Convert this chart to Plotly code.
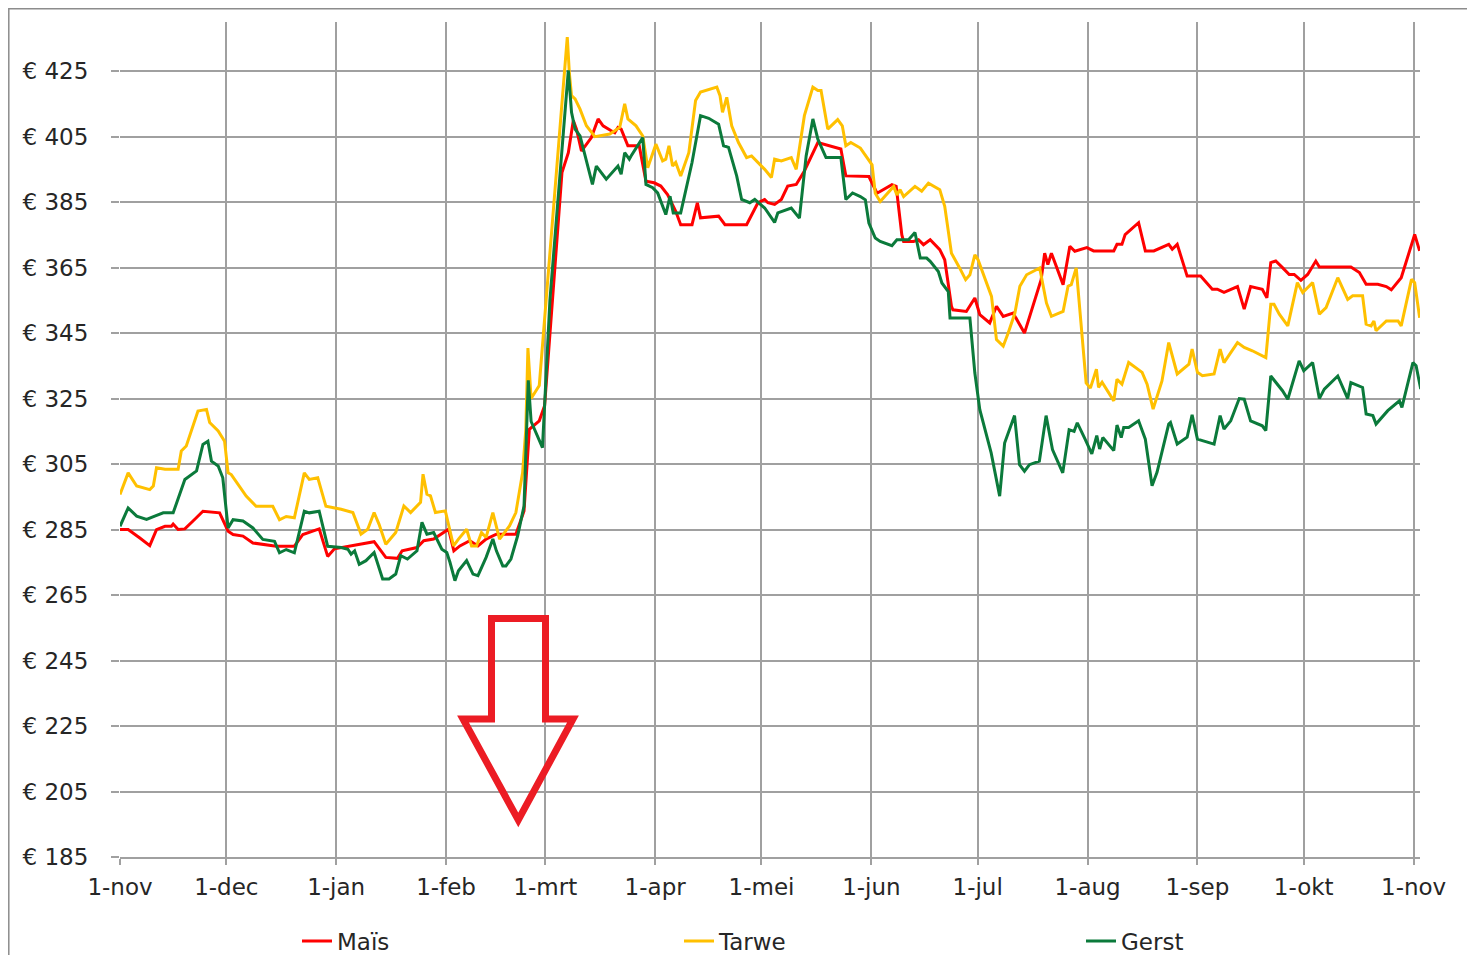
import pandas as pd
import plotly.graph_objects as go

# ---------------- data (day offset from 1-nov-2021, price in EUR/ton) ----------------
start = pd.Timestamp("2021-11-01")

mais_days = [0, 2.3, 5.6, 8.4, 10.3, 12.7, 14.5, 15, 16.4, 18.3, 20.6, 23.4, 28.1, 30.5, 31.9, 34.7,
             37.5, 44.1, 49.2, 51.6, 56.2, 58.6, 60.5, 65.2, 68, 71.7, 75, 78.3, 79.6, 83.8, 85.7,
             88.5, 92.7, 94.2, 95.9, 98.7, 101, 103.3, 106.2, 111.7, 114, 115.5, 118.3, 119.8, 124.7,
             126.5, 127.9, 128.8, 130.2, 133, 134.9, 136.3, 138.6, 139.6, 140.5, 141.4, 143.3, 146.5,
             148.4, 150.7, 152.6, 154.5, 156.8, 158.2, 161.4, 162.9, 163.8, 168.9, 170.7, 176.8, 180,
             181.9, 182.8, 184.7, 186.6, 188.4, 190.8, 193.1, 196.9, 198.7, 203.4, 204.8, 208.9, 211.3,
             213.6, 217.8, 219, 220.6, 221.1, 223.9, 225.3, 226.7, 228.6, 231.3, 232.7, 234.6, 235,
             238.8, 241.2, 242.6, 245.4, 247.3, 249.2, 252, 255.2, 259.9, 260.9, 261.8, 262.8, 266.1,
             268, 269.4, 272.8, 274.7, 280.4, 281.3, 282.7, 283.6, 287.4, 289.3, 291.7, 295.9, 296.9,
             298.3, 301.1, 304.9, 308.2, 309.6, 311.5, 315.3, 317.2, 319, 322.3, 323.6, 324.7, 326.1,
             328, 329.9, 331.3, 333.2, 335.1, 337.4, 338.4, 347.3, 349.7, 351.6, 354.9, 357.3, 358.7,
             361.5, 365.3, 366.7]
mais_vals = [285, 285, 282.4, 280.1, 285, 286, 286, 286.7, 285, 285.2, 287.6, 290.6, 290.1, 284.5,
             283.5, 283, 280.9, 279.9, 279.9, 283.5, 285.2, 276.8, 279.1, 280, 280.5, 281.3, 276.5,
             276.2, 278.5, 279.5, 281.6, 282.1, 285.1, 278.5, 280, 281.6, 280, 282.1, 283.6, 283.6,
             290.7, 315.6, 318.2, 322.8, 394, 400.1, 409.9, 407.3, 400.6, 404.7, 410.4, 408.3, 406.8,
             406.2, 407.8, 407.3, 402.2, 402.2, 391.4, 390.9, 389.9, 387.3, 382.2, 378.1, 378.1, 384.8,
             380.2, 380.7, 378.1, 378.1, 384.8, 385.8, 384.8, 384.3, 385.8, 389.9, 390.4, 394.5, 403.2,
             402.7, 401.2, 393, 392.8, 392.8, 387.7, 390.3, 389.8, 375, 373, 373, 373.5, 372, 373.5,
             370.5, 367.4, 353.2, 352.1, 351.6, 355.7, 350.6, 348.1, 353.2, 350.1, 351.1, 345, 361.3,
             369.4, 365.9, 369.4, 359.8, 371.5, 370, 371.1, 370.1, 370.1, 372.1, 372.1, 375.1, 378.7,
             370.1, 370.1, 372.1, 370.6, 372.1, 362.4, 362.4, 358.4, 358.4, 357.4, 359.2, 352.3, 359.2,
             358.4, 355.8, 366.5, 367, 365, 362.9, 362.9, 361.1, 362.9, 367, 365.2, 365.2, 363.5, 359.9,
             359.9, 359.2, 358.2, 361.9, 375.1, 370.1]

tarwe_days = [0, 2.3, 4.7, 6.6, 8.4, 9.4, 10.3, 12.7, 16.4, 17.3, 18.7, 22, 24.4, 25.3, 27.7, 29.5,
              30.5, 31.4, 35.6, 38.4, 43.1, 45, 46.9, 49.2, 52, 53.4, 55.8, 58.1, 62.4, 65.7, 68,
              69.9, 71.7, 73.1, 75, 77.8, 80.1, 82, 84.8, 85.5, 86.6, 87.6, 89, 91.8, 94.1, 95.5,
              97.8, 99.2, 100.6, 102, 103.3, 105.2, 107.1, 109.9, 111.7, 113.6, 114.5, 115.1, 116,
              118.3, 126.2, 126.8, 127.4, 128.4, 129.8, 131.6, 134, 138.2, 141, 142.4, 143.3, 145.6,
              147.5, 148.9, 151.2, 153.1, 154, 154.9, 155.9, 156.8, 158.2, 160.5, 162.4, 163.8, 166.1,
              168.4, 169.3, 170, 171.2, 172.6, 174.5, 176.8, 178.2, 180, 181.9, 183.8, 184.7, 186.6,
              189.4, 190.8, 193.1, 195.5, 196.9, 197.8, 199.7, 202.5, 203.8, 204.8, 206.2, 208.9,
              212.2, 213.1, 214.5, 218.3, 219.2, 220.1, 221.1, 224.3, 226.2, 228.1, 231.3, 232.7,
              234.6, 236.9, 238.6, 239.8, 241.2, 242.1, 243.5, 244.9, 245.9, 247.3, 249.2, 250.6,
              252.5, 253.9, 255.8, 259.5, 261.4, 262.8, 266.1, 267.5, 268.4, 269.8, 272.6, 273.8,
              275.5, 276.1, 277.1, 280.4, 281.3, 282.7, 284.6, 288.4, 289.8, 291.5, 294, 295.9, 298.3,
              301.6, 302.5, 304, 305.4, 308.7, 310.4, 311.5, 315.3, 317.2, 319.5, 323.3, 324.7, 325.6,
              327.1, 329.5, 332.2, 333.7, 336.5, 338.4, 340.3, 343.6, 346.4, 347.8, 350.6, 351.6, 353,
              353.8, 354.4, 357.3, 360.6, 361.5, 364.4, 365.3, 366.7]
tarwe_vals = [295.7, 302.3, 298.3, 297.8, 297.2, 298.3, 303.9, 303.4, 303.4, 309, 310.5, 321.2, 321.7,
              317.7, 315.1, 312, 302.3, 301.8, 295.2, 292.1, 292.1, 288, 289, 288.6, 302.3, 300.3,
              300.8, 292.1, 291.2, 290.2, 283.6, 285.1, 290.2, 286.6, 280.5, 284.1, 292.2, 290.2,
              293.3, 301.9, 295.8, 295.3, 290.2, 290.7, 280, 282.1, 285.1, 280, 280, 284.1, 282.6,
              290.2, 282.1, 286.1, 290.2, 302.4, 315.6, 340.4, 325, 329, 435.4, 424.2, 417.5, 416.5,
              413.4, 408.3, 405, 405.8, 407.8, 415, 410.4, 408.3, 405.2, 395.5, 402.7, 397.6, 398.1,
              402.2, 396, 397.1, 393, 400.1, 416, 418.6, 419.4, 420.1, 417.5, 412.4, 417, 408.3, 403.2,
              398.6, 399.1, 397.1, 395, 392.5, 398.1, 397.6, 398.6, 395, 411.4, 420.1, 419.1, 419.1,
              407.3, 410.2, 408.3, 402.2, 403.2, 401.5, 396.4, 387.7, 385.2, 389.8, 387.2, 388.8, 386.7,
              389.8, 388.3, 390.8, 388.8, 383.7, 369.4, 364.9, 361.3, 362.8, 368.9, 367.4, 363.3, 359.3,
              356.2, 343, 341, 345, 351.1, 359.3, 362.8, 364.9, 354.2, 350.1, 351.6, 359.3, 359.8,
              364.9, 329.8, 328.2, 334, 328.4, 330, 324.3, 330.9, 329.4, 336, 333, 329.4, 321.8, 330.4,
              342.1, 332.5, 335.5, 340.1, 333, 332, 332.5, 340.1, 336, 342.1, 340.6, 339.6, 337.5,
              353.8, 353.8, 350.8, 347.2, 360.4, 357.4, 360.4, 350.8, 352.8, 361.9, 355.3, 356.4,
              356.4, 347.7, 347.2, 348.7, 345.7, 348.7, 348.7, 347.2, 361.4, 360.4, 349.7]

gerst_days = [0, 2.3, 4.7, 7.5, 9.8, 12.2, 15, 18.3, 21.6, 23.4, 24.8, 25.8, 27.7, 29, 30.5, 31.9,
              34.7, 37.5, 40.3, 43.6, 45, 46.9, 49.2, 52, 53.4, 56.2, 58.6, 62.4, 64.3, 65.2, 66.2,
              67.5, 69.4, 71.7, 74.1, 75.9, 77.8, 79.2, 81.1, 83.8, 85.2, 86.6, 88.5, 90.8, 92.2,
              93.1, 94.5, 95.5, 97.8, 99.6, 101, 103.3, 105.2, 106.2, 108, 108.9, 110.3, 112.2, 114,
              115.2, 116, 119.2, 121.3, 126.5, 127.4, 128.4, 129.8, 133.3, 134.4, 137.2, 140.5, 141.4,
              142.4, 143.7, 144.2, 147.5, 148.4, 150.3, 151.7, 154, 155.2, 156.1, 158.2, 161.4, 163.8,
              166.1, 168.9, 170.3, 171.7, 174, 175.4, 177.7, 179.1, 181.9, 184.7, 185.6, 189.4, 191.7,
              193.6, 195.5, 196.9, 199.2, 203.4, 204.8, 206.7, 208.9, 210.3, 211.3, 213.1, 214.5,
              217.8, 219.2, 222.5, 224.3, 225.8, 227.6, 228.6, 230.9, 231.9, 233.7, 234.2, 239.8,
              241.2, 242.6, 245.8, 248.2, 249.6, 252.4, 253.8, 255.2, 256.6, 259.4, 261.3, 263.1, 266,
              267.8, 269.2, 270.1, 272.3, 274.2, 275.6, 276.4, 277.3, 280.4, 281.3, 282.5, 283.2,
              284.6, 287.4, 289.3, 291.2, 292.6, 295.9, 296.4, 298.3, 301.1, 302.5, 304, 308.7, 310.4,
              311.5, 313.4, 315.8, 317.2, 319, 322.3, 323.3, 324.7, 328, 329.5, 332.7, 334, 336.5,
              338.4, 339.8, 343.6, 346.4, 347.3, 350.6, 351.6, 353.5, 354.4, 357.7, 361, 361.7, 364.8,
              365.7, 367]
gerst_vals = [286, 291.6, 289.1, 288.1, 289.1, 290.1, 290.1, 300.3, 302.9, 311, 312, 305.9, 304.4,
              300.8, 285.5, 288, 287.6, 285.5, 282, 281.4, 277.9, 278.9, 277.9, 290.6, 290.1, 290.6,
              279.9, 279.5, 279, 277.5, 278.5, 274.4, 275.5, 278, 269.9, 269.9, 271.4, 277, 276, 278.5,
              287.2, 283.6, 284.1, 279, 278, 275, 269.4, 272.4, 275.5, 271.4, 270.9, 276.5, 282.1,
              278.5, 273.9, 273.9, 276, 283.1, 292.2, 330.6, 318, 310, 355, 425.2, 412.4, 407.3, 405.2,
              390.4, 396, 392, 396, 393.5, 400.1, 398.1, 399.1, 404.7, 390.4, 389.4, 387.8, 381.2,
              386.8, 381.7, 381.7, 397.1, 411.4, 410.6, 408.8, 402.2, 401.7, 393, 385.8, 384.8, 385.8,
              383.2, 378.8, 381.7, 383.2, 380.1, 399.1, 410.4, 404.2, 398.6, 398.6, 385.8, 387.8, 386.7,
              385.7, 378.6, 374, 373, 371.7, 373.5, 373.5, 375.7, 367.9, 367.9, 366.9, 363.8, 360.3,
              357.7, 349.6, 349.6, 332.8, 321.6, 308.4, 295.2, 311.4, 319.8, 304.8, 302.8, 304.8, 305.9,
              319.8, 309.4, 302.3, 315.5, 315, 317.6, 312.6, 308.1, 313.7, 309.6, 313.1, 309.1, 316.9,
              313.1, 316.2, 316.2, 318.2, 312.6, 298.4, 302.5, 317.2, 317.7, 311.1, 313.2, 320, 312.6,
              311.1, 319.8, 315.7, 318.2, 325, 324.8, 318.2, 316.7, 315.2, 331.9, 327.4, 324.8, 336.5,
              333.5, 336, 325, 327.9, 331.9, 325, 329.9, 328.4, 320.3, 319.8, 317.2, 321.3, 324.3,
              322.3, 336, 335, 327.9]

series_names = ["Maïs", "Tarwe", "Gerst"]
month_ticks = ["2021-11-01", "2021-12-01", "2022-01-01", "2022-02-01", "2022-03-01", "2022-04-01",
               "2022-05-01", "2022-06-01", "2022-07-01", "2022-08-01", "2022-09-01", "2022-10-01",
               "2022-11-01"]
month_labels = ["1-nov", "1-dec", "1-jan", "1-feb", "1-mrt", "1-apr", "1-mei", "1-jun", "1-jul",
                "1-aug", "1-sep", "1-okt", "1-nov"]
y_ticks = [185, 205, 225, 245, 265, 285, 305, 325, 345, 365, 385, 405, 425]

# ---------------- figure ----------------
# The page body has an 8px margin, so the figure is 8px smaller than the window.
W, H = 1467, 947
ML, MR, MT, MB = 112, 55, 14, 98
PW, PH = W - ML - MR, H - MT - MB
OFF = 8  # page offset of the figure

def to_dates(days):
    return [start + pd.Timedelta(days=d) for d in days]

def px2paper(px, py):
    """page pixel -> paper coordinates"""
    return (px - OFF - ML) / PW, (H - MB - (py - OFF)) / PH

colors = ["#ff0000", "#ffc000", "#0b7a3b"]
legend_ids = ["legend", "legend2", "legend3"]
legend_left_px = [297, 679, 1081]   # page x where each legend entry begins

GRID = "#a0a0a0"
FONT = dict(family="DejaVu Sans, Verdana, sans-serif", size=23, color="#262626")

fig = go.Figure()
for name, d, v, c, lid in zip(series_names, [mais_days, tarwe_days, gerst_days],
                              [mais_vals, tarwe_vals, gerst_vals], colors, legend_ids):
    fig.add_trace(go.Scatter(x=to_dates(d), y=v, mode="lines", name=name, legend=lid,
                             line=dict(color=c, width=3)))

legend_layout = {}
for lid, lx in zip(legend_ids, legend_left_px):
    px_, py_ = px2paper(lx, 941)
    legend_layout[lid] = dict(orientation="h", x=px_, xanchor="left", y=py_, yanchor="middle",
                              font=FONT, bgcolor="rgba(0,0,0,0)", itemclick=False)

# decorative red down-arrow (pixel outline of the drawn annotation)
arrow_px = [(491.5, 618.5), (545.5, 618.5), (545.5, 719), (573, 719), (518.3, 820),
            (463, 719), (491.5, 719)]
pts = [px2paper(x, y) for x, y in arrow_px]
path = "M " + " L ".join(f"{x:.5f},{y:.5f}" for x, y in pts) + " Z"

fx0, fy1 = px2paper(8.8, 8.8)
fx1, fy0 = px2paper(1468, 975)

fig.update_layout(
    width=W, height=H,
    margin=dict(l=ML, r=MR, t=MT, b=MB, autoexpand=False),
    paper_bgcolor="white", plot_bgcolor="white",
    font=FONT,
    showlegend=True,
    **legend_layout,
    xaxis=dict(
        range=[start, start + pd.Timedelta(days=366.8)],
        tickvals=month_ticks, ticktext=month_labels,
        showgrid=True, gridcolor=GRID, gridwidth=2,
        ticks="outside", ticklen=6, tickwidth=2, tickcolor=GRID,
        showline=True, linecolor=GRID, linewidth=2,
        zeroline=False, tickfont=FONT, ticklabelstandoff=2, automargin=False,
    ),
    yaxis=dict(
        range=[185, 440],
        tickvals=y_ticks, ticktext=[f"€ {v}" for v in y_ticks],
        showgrid=True, gridcolor=GRID, gridwidth=2,
        ticks="outside", ticklen=8, tickwidth=2, tickcolor=GRID,
        showline=False, zeroline=False, tickfont=FONT, ticklabelstandoff=18, automargin=False,
    ),
    shapes=[
        dict(type="path", path=path, xref="paper", yref="paper",
             line=dict(color="#ec1c24", width=7), fillcolor="rgba(0,0,0,0)", layer="above"),
        dict(type="rect", xref="paper", yref="paper", x0=fx0, x1=fx1, y0=fy0, y1=fy1,
             line=dict(color="#8c8c8c", width=1.5), fillcolor="rgba(0,0,0,0)", layer="below"),
    ],
)

fig.write_html("out.html")
